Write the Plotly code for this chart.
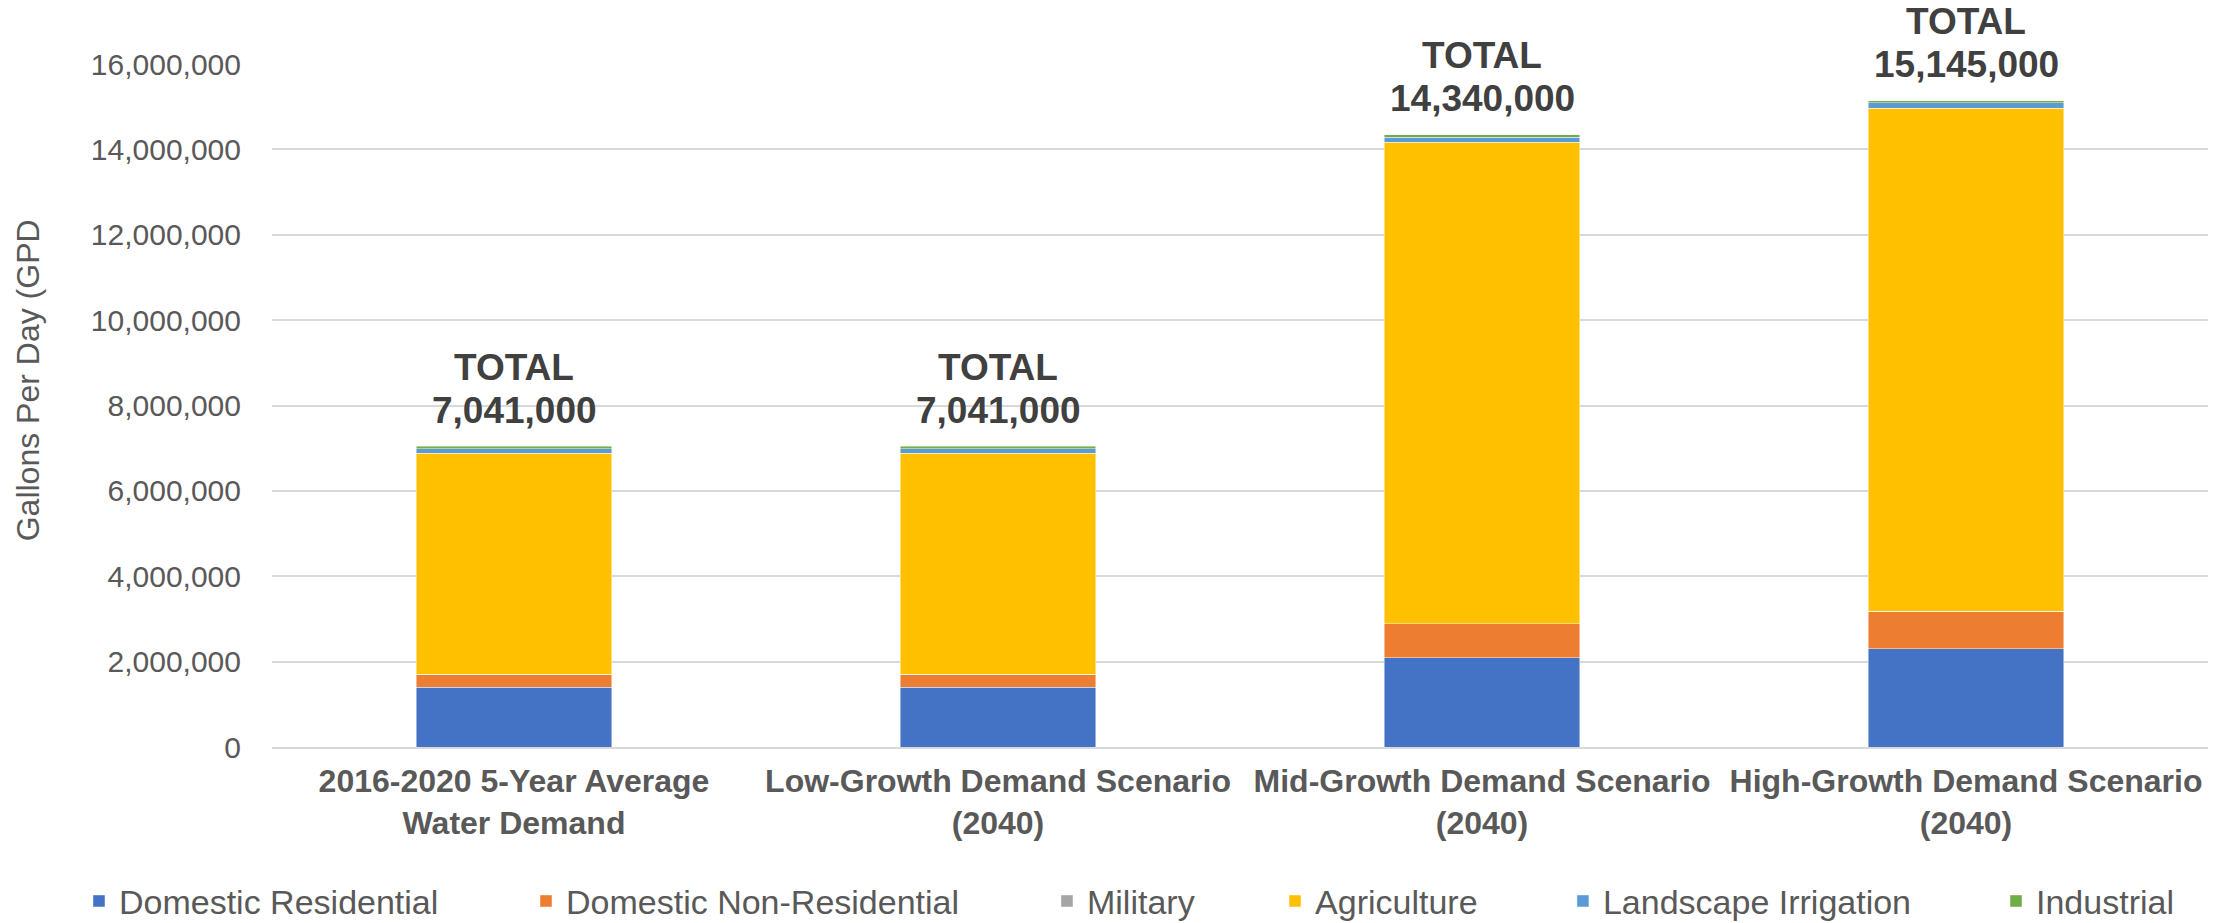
import plotly.graph_objects as go

categories = [
    "2016-2020 5-Year Average<br>Water Demand",
    "Low-Growth Demand Scenario<br>(2040)",
    "Mid-Growth Demand Scenario<br>(2040)",
    "High-Growth Demand Scenario<br>(2040)",
]
domestic_residential = [1400000, 1400000, 2090000, 2300000]
domestic_non_residential = [310000, 310000, 800000, 880000]
military = [0, 0, 0, 0]
agriculture = [5176000, 5176000, 11275000, 11785000]
landscape_irrigation = [105000, 105000, 120000, 125000]
industrial = [50000, 50000, 55000, 55000]
totals = [7041000, 7041000, 14340000, 15145000]
y_ticks = [0, 2000000, 4000000, 6000000, 8000000, 10000000, 12000000, 14000000, 16000000]

series = [
    ("Domestic Residential", domestic_residential, "#4472C4"),
    ("Domestic Non-Residential", domestic_non_residential, "#ED7D31"),
    ("Military", military, "#A5A5A5"),
    ("Agriculture", agriculture, "#FFC000"),
    ("Landscape Irrigation", landscape_irrigation, "#5B9BD5"),
    ("Industrial", industrial, "#70AD47"),
]
legend_x = [-0.0997, 0.1312, 0.4003, 0.5181, 0.6668, 0.8905]

FONT = "Liberation Sans, Arial, sans-serif"

fig = go.Figure()
legend_layouts = {}
for i, (name, vals, color) in enumerate(series):
    lname = "legend" if i == 0 else f"legend{i + 1}"
    fig.add_trace(go.Bar(
        x=categories, y=vals, name=name, legend=lname,
        marker=dict(color=color, line=dict(color="rgba(255,255,255,0.6)", width=0.75)),
    ))
    legend_layouts[lname] = dict(
        orientation="h", x=legend_x[i], xanchor="left", y=-0.226, yanchor="middle",
        font=dict(family=FONT, size=34, color="#595959"),
        bgcolor="rgba(0,0,0,0)", itemwidth=30,
    )

for cat, tot in zip(categories, totals):
    fig.add_annotation(
        x=cat, y=tot, xref="x", yref="y",
        text="<b>TOTAL</b>",
        showarrow=False, yanchor="middle", yshift=79,
        font=dict(family=FONT, size=37, color="#404040"),
    )
    fig.add_annotation(
        x=cat, y=tot, xref="x", yref="y",
        text=f"<b>{tot:,}</b>",
        showarrow=False, yanchor="middle", yshift=36,
        font=dict(family=FONT, size=37, color="#404040"),
    )

fig.add_annotation(
    xref="paper", yref="paper", x=-0.126, y=0.537,
    text="Gallons Per Day (GPD", textangle=-90, showarrow=False,
    font=dict(family=FONT, size=32, color="#595959"),
    xanchor="center", yanchor="middle",
)

fig.update_layout(
    width=2229, height=923,
    margin=dict(l=272, r=21, t=64, b=176, autoexpand=False),
    barmode="stack", bargap=0.597,
    plot_bgcolor="white", paper_bgcolor="white",
    font=dict(family=FONT, color="#595959"),
    showlegend=True,
    **legend_layouts,
)
fig.update_xaxes(
    showgrid=False, showline=True, linecolor="#D9D9D9", linewidth=2,
    tickfont=dict(family=FONT, size=32, color="#595959", weight="bold"),
    ticklabelstandoff=5,
)
fig.update_yaxes(
    range=[0, 16000000], tickvals=y_ticks, tickformat=",d",
    showgrid=True, gridcolor="#D9D9D9", gridwidth=1.5,
    zeroline=False, showline=False,
    tickfont=dict(family=FONT, size=30, color="#595959"),
    ticklabelstandoff=30,
)

fig.write_html(
    "out.html",
    config={"displayModeBar": False},
    post_script="document.body.style.margin='0';",
)
